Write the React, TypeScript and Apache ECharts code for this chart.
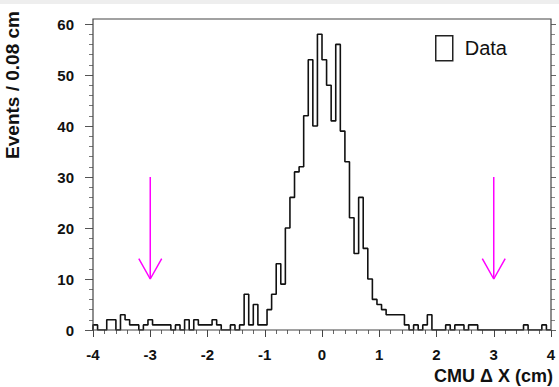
import { useEffect, useRef } from 'react';
import * as echarts from 'echarts';

// ---- data ----
const xMin = -4;
const xMax = 4;
const binWidth = 0.08;
const counts = [
  1, 0, 0, 2, 2, 0, 3, 2, 1, 1,
  0, 1, 2, 1, 1, 1, 1, 0, 1, 0,
  2, 0, 2, 1, 1, 1, 2, 1, 0, 0,
  1, 0, 1, 7, 1, 5, 1, 1, 4, 7,
  13, 9, 20, 26, 31, 32, 42, 53, 40, 58,
  53, 48, 41, 56, 39, 33, 22, 15, 26, 16,
  10, 6, 5, 4, 3, 3, 3, 3, 1, 0,
  1, 0, 1, 3, 0, 0, 0, 1, 0, 1,
  1, 0, 1, 1, 0, 0, 0, 0, 0, 0,
  0, 0, 0, 0, 1, 0, 0, 0, 1, 0,
];
const yMin = 0;
const yMax = 60;
const yInterval = 10;
const xInterval = 1;
const arrowXs = [-3, 3];
const arrowTop = 30;
const arrowTip = 10;
const arrowHeadY = 14;
const arrowHeadHalfWidth = 0.2;
const legendLabel = 'Data';
const xTitle = 'CMU \u0394 X (cm)';
const yTitle = 'Events / 0.08 cm';

const FONT = '"Liberation Sans", Arial, Helvetica, sans-serif';

function buildStep(): number[][] {
  const pts: number[][] = [[xMin, 0]];
  counts.forEach((c, i) => {
    const x0 = xMin + i * binWidth;
    const x1 = xMin + (i + 1) * binWidth;
    pts.push([x0, c], [x1, c]);
  });
  pts.push([xMax, 0]);
  return pts;
}

export default function App() {
  const ref = useRef<HTMLDivElement>(null);
  useEffect(() => {
    if (!ref.current) return;
    const chart = echarts.init(ref.current, undefined, { renderer: 'svg' });
    const arrowSeries: any[] = [];
    arrowXs.forEach((ax, i) => {
      arrowSeries.push({
        name: 'arrowShaft' + i,
        type: 'line',
        data: [[ax, arrowTop], [ax, arrowTip]],
        showSymbol: false,
        symbol: 'none',
        lineStyle: { color: '#ff00ff', width: 1.5 },
        silent: true,
        z: 3,
      });
      arrowSeries.push({
        name: 'arrowHead' + i,
        type: 'line',
        data: [[ax - arrowHeadHalfWidth, arrowHeadY], [ax, arrowTip], [ax + arrowHeadHalfWidth, arrowHeadY]],
        showSymbol: false,
        symbol: 'none',
        lineStyle: { color: '#ff00ff', width: 1.5 },
        silent: true,
        z: 3,
      });
    });
    chart.setOption({
      animation: false,
      backgroundColor: '#ffffff',
      grid: { left: 93, right: 8, top: 24, bottom: 57, containLabel: false },
      legend: {
        left: 430,
        top: 30,
        itemWidth: 17,
        itemHeight: 25,
        data: [
          {
            name: legendLabel,
            icon: 'rect',
            itemStyle: { color: '#ffffff', borderColor: '#222222', borderWidth: 1.5 },
          },
        ],
        textStyle: { fontSize: 20, color: '#111', fontFamily: FONT, padding: [0, 0, 0, 7] },
        selectedMode: false,
      },
      xAxis: {
        type: 'value',
        min: xMin,
        max: xMax,
        interval: xInterval,
        axisLine: { show: false, onZero: false },
        axisTick: { show: true, inside: false, length: 7, lineStyle: { color: '#444', width: 1 } },
        minorTick: { show: true, splitNumber: 5, length: 4, lineStyle: { color: '#666', width: 1 } },
        splitLine: { show: false },
        axisLabel: {
          margin: 17,
          fontSize: 15,
          fontWeight: 'bold',
          color: '#111',
          fontFamily: FONT,
        },
      },
      yAxis: [
        {
          type: 'value',
          min: yMin,
          max: yMax,
          interval: yInterval,
          position: 'left',
          axisLine: { show: false, onZero: false },
          axisTick: { show: true, inside: false, length: 8, lineStyle: { color: '#555', width: 1 } },
          minorTick: { show: true, splitNumber: 5, length: 4, lineStyle: { color: '#777', width: 1 } },
          splitLine: { show: false },
          axisLabel: {
            margin: 19,
            fontSize: 15,
            fontWeight: 'bold',
            color: '#111',
            fontFamily: FONT,
          },
        },
        {
          type: 'value',
          min: yMin,
          max: yMax,
          interval: yInterval,
          position: 'right',
          axisLine: { show: false, onZero: false },
          axisTick: { show: true, inside: false, length: 5, lineStyle: { color: '#666', width: 1 } },
          minorTick: { show: true, splitNumber: 5, length: 4, lineStyle: { color: '#888', width: 1 } },
          splitLine: { show: false },
          axisLabel: { show: false },
        },
      ],
      series: [
        {
          name: legendLabel,
          type: 'line',
          data: buildStep(),
          showSymbol: false,
          symbol: 'none',
          lineStyle: { color: '#111111', width: 1.6 },
          itemStyle: { color: '#ffffff', borderColor: '#222' },
          silent: true,
          z: 4,
        },
        ...arrowSeries,
      ],
      graphic: [
        {
          type: 'rect',
          silent: true,
          shape: { x: 0, y: 0, width: 559, height: 4 },
          style: { fill: '#eeeeee' },
          z: 0,
        },
        {
          type: 'rect',
          silent: true,
          shape: { x: 93, y: 19, width: 458, height: 311 },
          style: { fill: 'none', stroke: '#444444', lineWidth: 1.2 },
          z: 10,
        },
        {
          type: 'text',
          silent: true,
          x: 12,
          y: 11,
          rotation: Math.PI / 2,
          style: {
            text: yTitle,
            fill: '#111',
            font: 'bold 19px ' + FONT,
            align: 'right',
            verticalAlign: 'middle',
          },
          z: 10,
        },
        {
          type: 'text',
          silent: true,
          x: 553,
          y: 376,
          style: {
            text: xTitle,
            fill: '#111',
            font: 'bold 18px ' + FONT,
            align: 'right',
            verticalAlign: 'middle',
          },
          z: 10,
        },
      ],
    });
    return () => chart.dispose();
  }, []);
  return (
    <div
      ref={ref}
      style={{ position: 'fixed', left: 0, top: 0, width: 559, height: 387, background: '#fff' }}
    />
  );
}
